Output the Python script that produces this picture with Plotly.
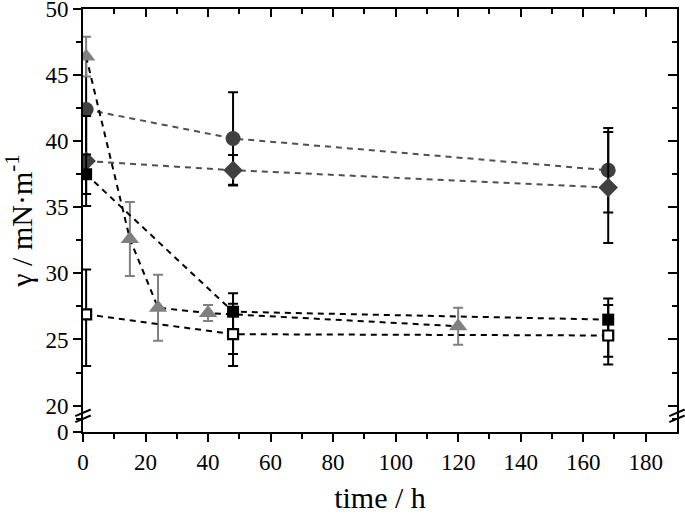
import plotly.graph_objects as go

# --- data ---
t_long = [1, 48, 168]
circle = [42.4, 40.2, 37.8]
circle_err = [4.0, 3.5, 3.2]
diamond = [38.5, 37.8, 36.5]
diamond_err = [3.4, 1.15, 4.2]
sq_filled = [37.5, 27.1, 26.5]
sq_filled_up = [1.5, 1.4, 1.6]
sq_filled_dn = [1.5, 3.2, 2.8]
sq_open = [26.9, 25.4, 25.3]
sq_open_up = [3.4, 2.3, 2.3]
sq_open_dn = [3.9, 2.4, 2.2]

t_tri = [1, 15, 24, 40, 120]
tri = [46.4, 32.6, 27.4, 27.0, 26.0]
tri_err = [1.5, 2.8, 2.5, 0.6, 1.4]

# y axis has a break: "0" is drawn at 18, the upper segment runs 20..50
y_tickvals = [18, 20, 25, 30, 35, 40, 45, 50]
y_ticktext = ['0', '20', '25', '30', '35', '40', '45', '50']
y_minor = [19, 22.5, 27.5, 32.5, 37.5, 42.5, 47.5]
x_tickvals = [0, 20, 40, 60, 80, 100, 120, 140, 160, 180]
x_minor = [10, 30, 50, 70, 90, 110, 130, 150, 170]

FONT = 'Liberation Serif, Times New Roman, serif'
DASH = '6px,5px'

fig = go.Figure()


def series(x, y, color, line_color, symbol, size, err, err_minus=None,
           err_color='black', open_marker=False):
    ey = dict(type='data', array=err, color=err_color, thickness=2, width=5)
    if err_minus is not None:
        ey.update(symmetric=False, arrayminus=err_minus)
    fig.add_trace(go.Scatter(
        x=x, y=y, mode='lines+markers',
        line=dict(color=line_color, width=2, dash=DASH),
        marker=dict(symbol=symbol, size=size,
                    color='white' if open_marker else color,
                    line=dict(color=color, width=2.2 if open_marker else 0)),
        error_y=ey, showlegend=False))


series(t_long, circle, '#404040', '#505050', 'circle', 15, circle_err)
series(t_long, diamond, '#404040', '#505050', 'diamond', 15, diamond_err)
series(t_tri, tri, '#808080', 'black', 'triangle-up', 16, tri_err,
       err_color='#808080')
series(t_long, sq_filled, 'black', 'black', 'square', 12, sq_filled_up,
       sq_filled_dn)
series(t_long, sq_open, 'black', 'black', 'square', 10, sq_open_up,
       sq_open_dn, open_marker=True)

# empty trace so the mirrored (inward tick) axes get drawn
fig.add_trace(go.Scatter(x=[], y=[], xaxis='x2', yaxis='y2', showlegend=False))

tickfont = dict(family=FONT, size=23, color='black')
titlefont = dict(family=FONT, size=30, color='black')
common = dict(showline=True, linecolor='black', linewidth=2, showgrid=False,
              zeroline=False, tickcolor='black', tickwidth=2,
              automargin=False)

fig.update_layout(
    width=685, height=514,
    paper_bgcolor='white', plot_bgcolor='white',
    margin=dict(l=83, r=8, t=9, b=82),
    font=dict(family=FONT, color='black'),
    xaxis=dict(range=[0, 190], tickvals=x_tickvals, ticks='outside',
               ticklen=8, tickfont=tickfont,
               minor=dict(tickmode='array', tickvals=x_minor, ticks='outside',
                          ticklen=5, tickcolor='black', tickwidth=2),
               title=dict(text='time / h', font=titlefont, standoff=14),
               **common),
    yaxis=dict(range=[18, 50], tickmode='array', tickvals=y_tickvals,
               ticktext=y_ticktext, ticks='outside', ticklen=8,
               tickfont=tickfont, ticklabeloverflow='allow',
               minor=dict(tickmode='array', tickvals=y_minor, ticks='outside',
                          ticklen=5, tickcolor='black', tickwidth=2),
               title=dict(text='γ / mN·m<sup>-1</sup>', font=titlefont,
                          standoff=4),
               **common),
    xaxis2=dict(range=[0, 190], overlaying='x', side='top', anchor='y',
                tickvals=x_tickvals, ticks='inside', ticklen=8,
                showticklabels=False,
                minor=dict(tickmode='array', tickvals=x_minor, ticks='inside',
                           ticklen=5, tickcolor='black', tickwidth=2),
                **common),
    yaxis2=dict(range=[18, 50], overlaying='y', side='right', anchor='x',
                tickmode='array', tickvals=y_tickvals, ticks='inside',
                ticklen=9, showticklabels=False,
                minor=dict(tickmode='array', tickvals=y_minor, ticks='inside',
                           ticklen=5, tickcolor='black', tickwidth=2),
                **common),
)

# axis-break marks on left and right axes
for xc in (0.0, 1.0):
    for yc in (19.0, 19.45):
        fig.add_shape(type='line', xref='paper', yref='y',
                      x0=xc - 0.013, x1=xc + 0.013, y0=yc - 0.25, y1=yc + 0.25,
                      line=dict(color='black', width=2))

# the page's default 8px body margin would shift the figure
fig.write_html('out.html', config={'displayModeBar': False},
               post_script="document.body.style.margin='0px';")
